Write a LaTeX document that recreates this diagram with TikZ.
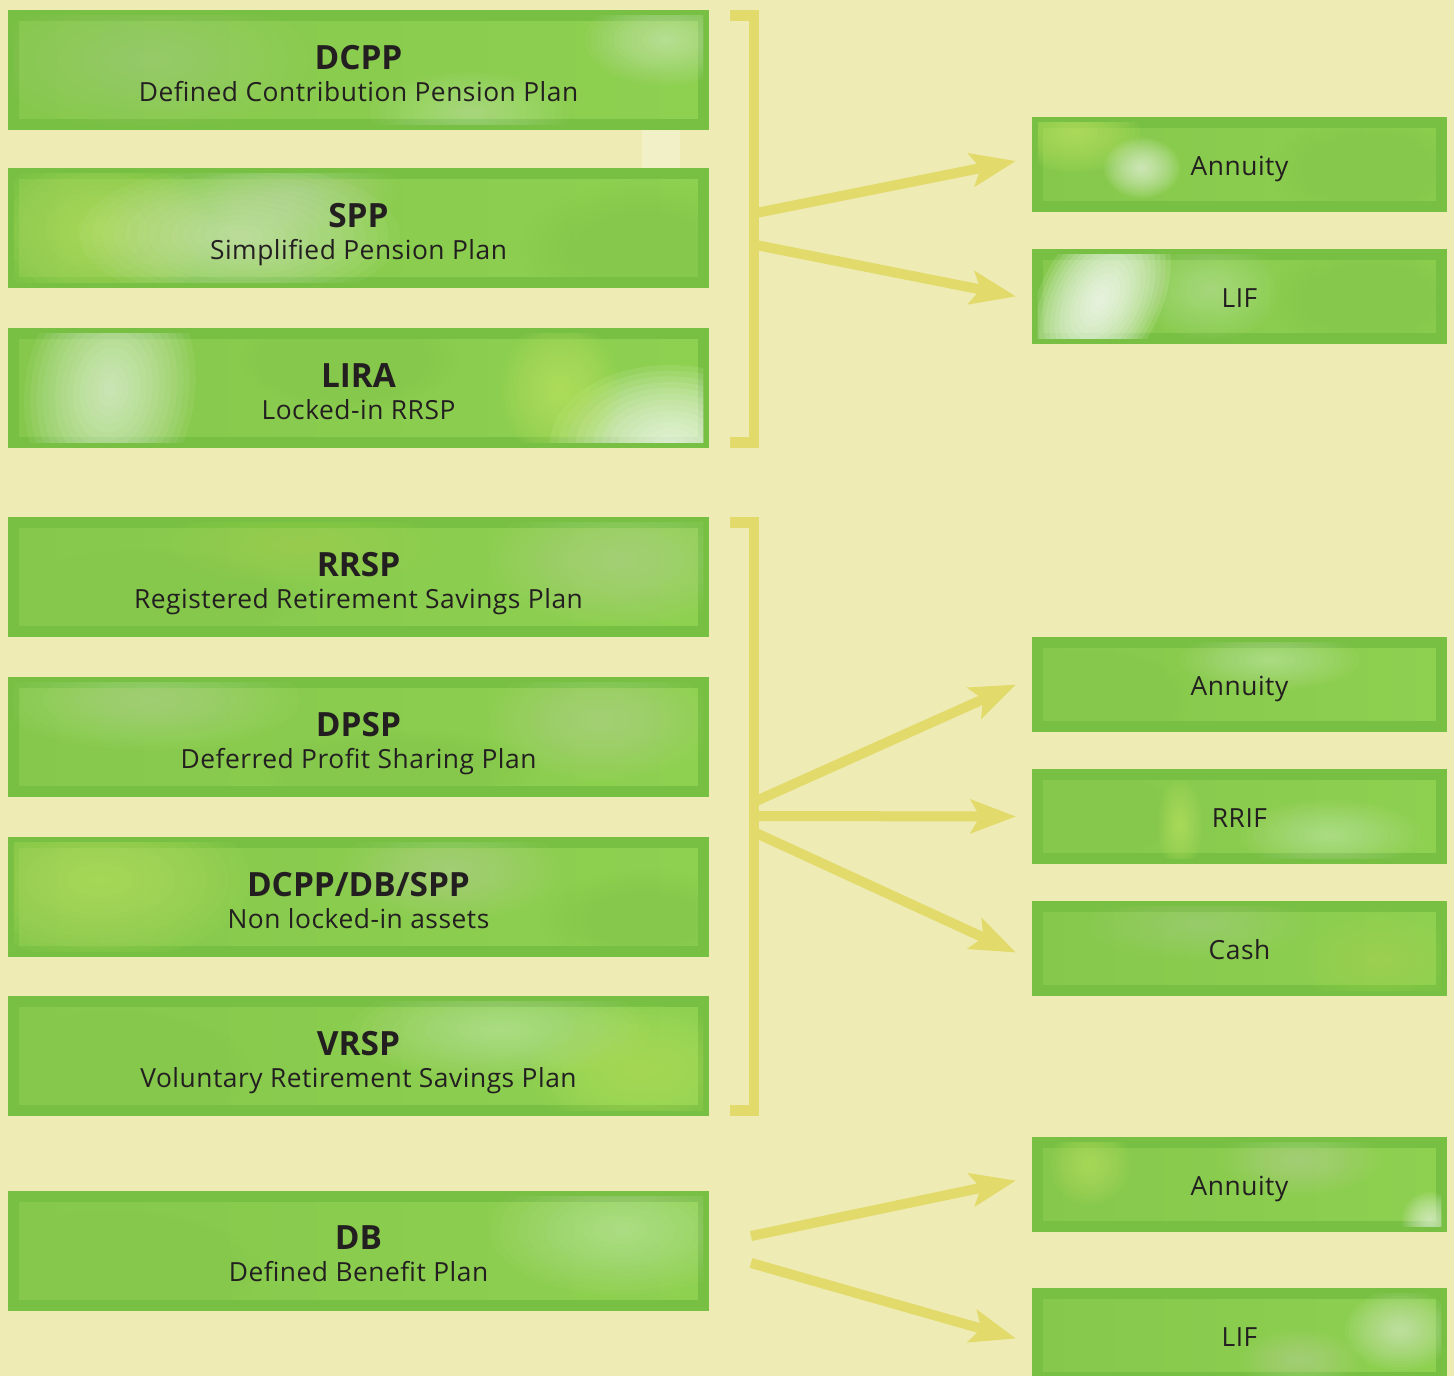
\documentclass[tikz,border=0pt]{standalone}
\usepackage{fontspec}
\setmainfont{Open Sans}
\newfontfamily\subfont[LetterSpace=2]{Open Sans}
\usetikzlibrary{arrows.meta,calc}
\definecolor{bg}{HTML}{EEECB4}
\definecolor{yel}{HTML}{E2DA6A}
\definecolor{gborder}{HTML}{78C043}
\definecolor{gA}{HTML}{86C84C}
\definecolor{gB}{HTML}{ABDE60}
\definecolor{gC}{HTML}{8ED050}
\definecolor{gY}{HTML}{C4E966}
\definecolor{txt}{HTML}{231F20}
\tikzset{
  lbox/.style={rectangle, draw=gborder, line width=0.22cm, minimum width=13.8cm, minimum height=2.18cm, inner sep=0pt, left color=gA, middle color=gB, right color=gC},
  rbox/.style={rectangle, draw=gborder, line width=0.22cm, minimum width=8.08cm, minimum height=1.68cm, inner sep=0pt, left color=gA, middle color=gB, right color=gC},
  ttl/.style={anchor=base, text=txt, inner sep=0pt, font=\fontsize{19}{19}\selectfont\bfseries},
  sub/.style={anchor=base, text=txt, inner sep=0pt, font=\subfont\fontsize{15}{15}\selectfont},
  arr/.style={draw=yel, line width=0.2cm, -{Stealth[length=0.9cm, width=0.66cm, inset=0.18cm]}},
  brk/.style={draw=yel, line width=0.21cm, line join=miter, line cap=butt}
}
% soft highlight built from stacked translucent ellipses: x, y, rx, ry, angle, colour, opacity
\newcommand\glowr[7]{%
  \pgfmathsetmacro\gop{#7/14}%
  \foreach \k in {1,...,14}{%
    \fill[#6, fill opacity=\gop, rotate around={#5:(#1,#2)}] (#1,#2) ellipse [x radius={#3*\k/14}, y radius={#4*\k/14}];
  }%
}
\newcommand\glow[6]{\glowr{#1}{#2}{#3}{#4}{0}{#5}{#6}}
\newcommand\lbx[5]{%
  \node[lbox] (#1) at (358.5,#2) {};
  \begin{scope}
    \clip ($(#1.north west)+(5.5,5.5)$) rectangle ($(#1.south east)+(-5.5,-5.5)$);
    #5
  \end{scope}
  \node[ttl] (#1t) at ($(#1.center)+(0,-1)$) {#3};
  \node[sub] (#1s) at ($(#1.center)+(0,31)$) {#4};
}
\newcommand\rbx[4]{%
  \node[rbox] (#1) at (1239.5,#2) {};
  \begin{scope}
    \clip ($(#1.north west)+(5.5,5.5)$) rectangle ($(#1.south east)+(-5.5,-5.5)$);
    #4
  \end{scope}
  \node[sub] (#1t) at ($(#1.center)+(0,10.5)$) {#3};
}
\begin{document}
\begin{tikzpicture}[x=0.02cm, y=-0.02cm]
\useasboundingbox (0,0) rectangle (1454,1376);
\clip (0,0) rectangle (1454,1376);
\fill[bg] (0,0) rectangle (1454,1376);
\fill[white, fill opacity=0.25] (642,130) rectangle (680,168);

% left boxes
\lbx{dcpp}{70}{DCPP}{Defined Contribution Pension Plan}{%
  \glow{150}{60}{160}{70}{white}{0.2}
  \glow{470}{112}{100}{40}{white}{0.35}
  \glow{665}{40}{80}{45}{white}{0.5}}
\lbx{spp}{228}{SPP}{Simplified Pension Plan}{%
  \glow{100}{230}{110}{80}{gY}{0.8}
  \glow{240}{235}{160}{70}{white}{0.6}
  \glow{300}{190}{100}{40}{white}{0.3}
  \glow{650}{250}{130}{70}{gA}{0.7}}
\lbx{lira}{388}{LIRA}{Locked-in RRSP}{%
  \glowr{110}{390}{85}{120}{-8}{white}{0.9}
  \glow{670}{445}{120}{80}{white}{1.3}
  \glow{560}{390}{60}{70}{gY}{1}
  \glow{350}{360}{110}{50}{gA}{0.5}}
\lbx{rrsp}{577}{RRSP}{Registered Retirement Savings Plan}{%
  \glow{620}{560}{130}{65}{white}{0.3}
  \glow{150}{600}{150}{50}{gA}{0.5}
  \glow{300}{545}{140}{40}{gY}{0.4}}
\lbx{dpsp}{737}{DPSP}{Deferred Profit Sharing Plan}{%
  \glow{150}{700}{150}{50}{white}{0.25}
  \glow{600}{720}{110}{60}{white}{0.25}
  \glow{400}{770}{140}{40}{gA}{0.4}}
\lbx{nla}{897}{DCPP/DB/SPP}{Non locked-in assets}{%
  \glow{100}{880}{150}{80}{gY}{0.8}
  \glow{450}{870}{110}{50}{white}{0.25}
  \glow{650}{920}{110}{50}{gA}{0.5}}
\lbx{vrsp}{1056}{VRSP}{Voluntary Retirement Savings Plan}{%
  \glow{500}{1030}{150}{50}{white}{0.4}
  \glow{640}{1070}{110}{65}{gY}{0.7}
  \glow{120}{1070}{130}{60}{gA}{0.5}}
\lbx{db}{1250.5}{DB}{Defined Benefit Plan}{%
  \glow{620}{1230}{130}{65}{white}{0.4}
  \glow{120}{1270}{140}{60}{gA}{0.4}}

% right boxes
\rbx{annA}{164.5}{Annuity}{%
  \glow{1075}{132}{65}{40}{gY}{1}
  \glow{1142}{168}{38}{30}{white}{0.9}
  \glow{1380}{170}{110}{60}{gA}{0.6}}
\rbx{lifA}{296.5}{LIF}{%
  \glowr{1100}{300}{60}{100}{-28}{white}{1.6}
  \glow{1210}{290}{70}{50}{white}{0.35}
  \glow{1380}{300}{110}{60}{gA}{0.7}}
\rbx{annB}{684.5}{Annuity}{%
  \glow{1270}{660}{90}{30}{white}{0.4}
  \glow{1100}{700}{90}{50}{gA}{0.5}}
\rbx{rrif}{816.5}{RRIF}{%
  \glow{1330}{835}{90}{35}{white}{0.4}
  \glow{1180}{825}{22}{45}{gY}{0.8}
  \glow{1090}{815}{80}{50}{gA}{0.5}}
\rbx{cash}{948.5}{Cash}{%
  \glow{1200}{925}{110}{35}{white}{0.2}
  \glow{1380}{960}{80}{50}{gY}{0.4}}
\rbx{annC}{1184.5}{Annuity}{%
  \glow{1090}{1165}{40}{40}{gY}{0.8}
  \glow{1430}{1220}{28}{28}{white}{0.8}
  \glow{1300}{1160}{80}{35}{white}{0.3}}
\rbx{lifB}{1335.5}{LIF}{%
  \glow{1400}{1330}{55}{40}{white}{0.6}
  \glow{1300}{1360}{60}{30}{white}{0.3}}

% brackets
\draw[brk] (730,15.5) -- (754,15.5) -- (754,442.5) -- (730,442.5);
\draw[brk] (730,522.5) -- (754,522.5) -- (754,1110.5) -- (730,1110.5);

% arrow starts
\coordinate (s1) at (756,213);
\coordinate (s2) at (756,245);
\coordinate (s3) at (756,801);
\coordinate (s4) at (756,816);
\coordinate (s5) at (756,833);
\coordinate (s6) at (751,1236);
\coordinate (s7) at (751,1263);

\draw[arr] (s1) -- ($(annA.west)+(-16,-3.5)$);
\draw[arr] (s2) -- ($(lifA.west)+(-16,0)$);
\draw[arr] (s3) -- ($(annB.west)+(-16,0)$);
\draw[arr] (s4) -- ($(rrif.west)+(-16,0)$);
\draw[arr] (s5) -- ($(cash.west)+(-16,4)$);
\draw[arr] (s6) -- ($(annC.west)+(-16,-4)$);
\draw[arr] (s7) -- ($(lifB.west)+(-16,3)$);
\end{tikzpicture}
\end{document}
